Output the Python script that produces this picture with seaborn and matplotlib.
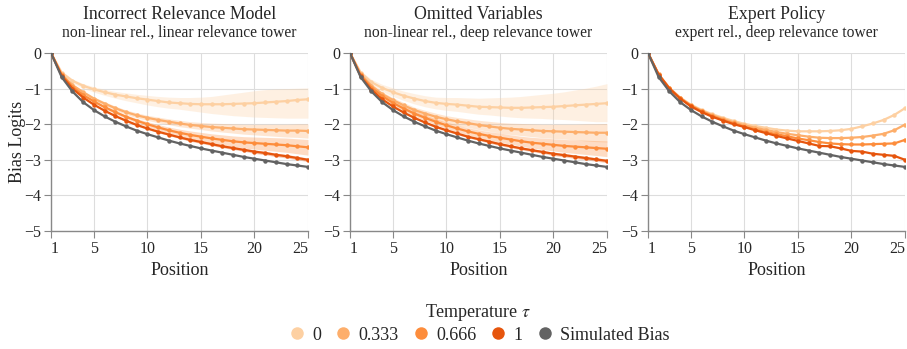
import matplotlib
matplotlib.use('Agg')
import matplotlib.pyplot as plt
from matplotlib.lines import Line2D
import seaborn as sns
import pandas as pd
import numpy as np

# positions 1..25
positions = list(range(1, 26))

sim_bias = [0, -0.68, -1.08, -1.38, -1.60, -1.78, -1.93, -2.06, -2.18, -2.28, -2.37, -2.46, -2.54,
            -2.61, -2.68, -2.74, -2.80, -2.86, -2.92, -2.97, -3.02, -3.07, -3.12, -3.16, -3.20]

# panel 1: Incorrect Relevance Model
p1_t0 = [0, -0.55, -0.78, -0.92, -1.02, -1.10, -1.17, -1.22, -1.27, -1.31, -1.35, -1.39, -1.41,
         -1.43, -1.44, -1.44, -1.44, -1.43, -1.42, -1.41, -1.39, -1.37, -1.35, -1.32, -1.30]
p1_t333 = [0, -0.60, -0.90, -1.10, -1.28, -1.42, -1.55, -1.66, -1.75, -1.82, -1.88, -1.93, -1.98,
           -2.02, -2.05, -2.08, -2.10, -2.12, -2.14, -2.15, -2.16, -2.17, -2.18, -2.18, -2.19]
p1_t666 = [0, -0.62, -0.95, -1.18, -1.36, -1.52, -1.66, -1.79, -1.90, -2.00, -2.09, -2.17, -2.24,
           -2.30, -2.35, -2.40, -2.44, -2.48, -2.51, -2.53, -2.55, -2.57, -2.59, -2.62, -2.65]
p1_t1 = [0, -0.64, -1.00, -1.25, -1.45, -1.62, -1.77, -1.90, -2.02, -2.12, -2.21, -2.29, -2.37,
         -2.44, -2.50, -2.56, -2.62, -2.67, -2.72, -2.77, -2.81, -2.86, -2.90, -2.95, -3.00]

# panel 2: Omitted Variables
p2_t0 = [0, -0.55, -0.82, -0.98, -1.10, -1.20, -1.28, -1.35, -1.40, -1.43, -1.45, -1.48, -1.51,
         -1.52, -1.53, -1.54, -1.54, -1.53, -1.52, -1.51, -1.49, -1.47, -1.45, -1.43, -1.41]
p2_t333 = [0, -0.60, -0.92, -1.15, -1.32, -1.47, -1.60, -1.70, -1.79, -1.86, -1.92, -1.97, -2.02,
           -2.06, -2.10, -2.13, -2.15, -2.17, -2.19, -2.20, -2.21, -2.22, -2.23, -2.24, -2.24]
p2_t666 = [0, -0.63, -0.97, -1.21, -1.40, -1.56, -1.70, -1.82, -1.93, -2.03, -2.12, -2.20, -2.27,
           -2.33, -2.38, -2.43, -2.48, -2.52, -2.55, -2.58, -2.61, -2.63, -2.65, -2.67, -2.69]
p2_t1 = [0, -0.66, -1.03, -1.30, -1.50, -1.67, -1.82, -1.95, -2.07, -2.17, -2.26, -2.35, -2.42,
         -2.49, -2.56, -2.62, -2.68, -2.73, -2.78, -2.83, -2.87, -2.91, -2.95, -2.99, -3.03]

# panel 3: Expert Policy
p3_t0 = [0, -0.60, -0.98, -1.25, -1.45, -1.60, -1.72, -1.82, -1.91, -1.99, -2.05, -2.10, -2.15,
         -2.18, -2.20, -2.20, -2.20, -2.19, -2.17, -2.13, -2.06, -1.98, -1.88, -1.74, -1.55]
p3_t333 = [0, -0.60, -0.99, -1.26, -1.47, -1.62, -1.75, -1.85, -1.95, -2.03, -2.10, -2.16, -2.22,
           -2.27, -2.31, -2.35, -2.38, -2.39, -2.39, -2.38, -2.36, -2.32, -2.27, -2.17, -2.01]
p3_t666 = [0, -0.61, -0.99, -1.27, -1.48, -1.64, -1.77, -1.88, -1.98, -2.07, -2.15, -2.22, -2.28,
           -2.34, -2.40, -2.45, -2.50, -2.54, -2.56, -2.57, -2.57, -2.56, -2.55, -2.54, -2.44]
p3_t1 = [0, -0.61, -1.00, -1.28, -1.50, -1.66, -1.79, -1.90, -2.00, -2.08, -2.17, -2.25, -2.33,
         -2.40, -2.47, -2.54, -2.61, -2.62, -2.68, -2.75, -2.77, -2.83, -2.86, -2.89, -3.00]

# confidence bands (distance above / below the mean)
p1_t0_up = [0, .04, .05, .06, .07, .08, .09, .10, .11, .12, .13, .15, .16, .18, .20, .22, .26, .29,
            .32, .35, .36, .36, .35, .33, .32]
p1_t0_dn = [0, .04, .06, .07, .08, .09, .10, .12, .13, .15, .16, .16, .17, .19, .22, .26, .29, .33,
            .36, .39, .42, .45, .48, .51, .53]
p1_t333_hw = [0, .02, .03, .04, .05, .05, .06, .06, .07, .07, .08, .08, .09, .09, .10, .11, .12, .13,
              .14, .15, .16, .17, .18, .19, .20]
p1_t666_hw = [0, .02, .03, .03, .04, .04, .05, .05, .06, .07, .08, .09, .10, .11, .12, .13, .14, .15,
              .16, .17, .18, .19, .20, .21, .22]
p1_t1_hw = [0, .01, .02, .02, .02, .02, .03, .03, .03, .03, .03, .03, .03, .04, .04, .04, .04, .04,
            .04, .05, .05, .05, .05, .05, .05]

p2_t0_up = [0, .05, .08, .10, .12, .13, .14, .15, .16, .18, .20, .22, .24, .26, .28, .30, .32, .34,
            .36, .38, .40, .43, .46, .50, .55]
p2_t0_dn = [0, .05, .08, .10, .12, .13, .15, .16, .17, .18, .19, .20, .21, .22, .24, .26, .28, .30,
            .32, .35, .38, .42, .46, .50, .52]
p2_t333_hw = [0, .03, .05, .06, .07, .08, .08, .09, .10, .10, .11, .12, .13, .14, .15, .16, .17, .18,
              .19, .20, .21, .22, .24, .25, .26]
p2_t666_hw = [0, .03, .04, .05, .06, .07, .07, .08, .08, .09, .10, .10, .11, .12, .13, .13, .14, .15,
              .16, .17, .18, .19, .20, .21, .22]
p2_t1_hw = [0, .01, .02, .02, .02, .02, .03, .03, .03, .03, .03, .03, .03, .04, .04, .04, .04, .04,
            .04, .05, .05, .05, .05, .05, .05]

titles = ['Incorrect Relevance Model', 'Omitted Variables', 'Expert Policy']
subtitles = ['non-linear rel., linear relevance tower', 'non-linear rel., deep relevance tower',
             'expert rel., deep relevance tower']
series_names = ['0', '0.333', '0.666', '1', 'Simulated Bias']
colors = {'0': '#fdd0a2', '0.333': '#fdae6b', '0.666': '#fd8d3c', '1': '#e6550d',
          'Simulated Bias': '#636363'}
x_ticks = [1, 5, 10, 15, 20, 25]
y_ticks = [0, -1, -2, -3, -4, -5]

panels = [
    [p1_t0, p1_t333, p1_t666, p1_t1, sim_bias],
    [p2_t0, p2_t333, p2_t666, p2_t1, sim_bias],
    [p3_t0, p3_t333, p3_t666, p3_t1, sim_bias],
]
bands = [
    [(p1_t0_up, p1_t0_dn), (p1_t333_hw, p1_t333_hw), (p1_t666_hw, p1_t666_hw), (p1_t1_hw, p1_t1_hw)],
    [(p2_t0_up, p2_t0_dn), (p2_t333_hw, p2_t333_hw), (p2_t666_hw, p2_t666_hw), (p2_t1_hw, p2_t1_hw)],
    None,
]

sns.set_style('white')
plt.rcParams['font.family'] = ['Liberation Serif', 'DejaVu Serif']
plt.rcParams['mathtext.fontset'] = 'stix'

fig = plt.figure(figsize=(9.07, 3.49), dpi=100)
lefts = [51, 350, 648]
W, H = 907, 349

for i in range(3):
    ax = fig.add_axes([lefts[i] / W, 1 - 231 / H, 257 / W, 178 / H])
    rows = []
    for name, vals in zip(series_names, panels[i]):
        for p, v in zip(positions, vals):
            rows.append({'Position': p, 'Bias': v, 'Series': name})
    df = pd.DataFrame(rows)

    if bands[i] is not None:
        for name, vals, (up, dn) in zip(series_names[:4], panels[i][:4], bands[i]):
            m = np.array(vals)
            ax.fill_between(positions, m - np.array(dn), m + np.array(up),
                            color=colors[name], alpha=0.3, linewidth=0, zorder=1)

    sns.lineplot(data=df, x='Position', y='Bias', hue='Series', hue_order=series_names,
                 palette=colors, marker='o', markersize=3.2, markeredgewidth=0,
                 linewidth=1.6, legend=False, ax=ax, zorder=3)

    ax.set_xlim(1, 25)
    ax.set_ylim(-5, 0)
    ax.set_xticks(x_ticks)
    ax.set_xticklabels([str(t) for t in x_ticks])
    ax.set_yticks(y_ticks)
    ax.set_yticklabels(['0' if t == 0 else '\u2212%d' % abs(t) for t in y_ticks])
    xl = ax.get_xticklabels()
    xl[0].set_ha('left')
    xl[-1].set_ha('right')
    ax.grid(True, color='#dddddd', linewidth=0.8)
    ax.set_axisbelow(True)
    for s in ['top', 'right']:
        ax.spines[s].set_visible(False)
    for s in ['left', 'bottom']:
        ax.spines[s].set_color('#888888')
        ax.spines[s].set_linewidth(1.0)
    ax.tick_params(axis='both', which='both', direction='out', length=5, width=0.8,
                   color='#888888', labelsize=11.5, pad=2, left=True, bottom=True)
    ax.set_xlabel('Position', fontsize=13, labelpad=4)
    if i == 0:
        ax.set_ylabel('Bias Logits', fontsize=13, labelpad=-1)
    else:
        ax.set_ylabel('')
    ax.text(0.5, 1.215, titles[i], transform=ax.transAxes, ha='center', va='center', fontsize=12.8)
    ax.text(0.5, 1.112, subtitles[i], transform=ax.transAxes, ha='center', va='center', fontsize=11.2)

handles = [Line2D([], [], linestyle='none', marker='o', markersize=9, markeredgewidth=0,
                  color=colors[n]) for n in series_names]
leg = fig.legend(handles, series_names, loc='center', bbox_to_anchor=(0.527, 0.075), ncol=5,
                 frameon=False, fontsize=13, title='Temperature $\\tau$', title_fontsize=13,
                 handletextpad=0.25, columnspacing=0.62, handlelength=1.2, borderpad=0.2,
                 labelspacing=0.2)

fig.savefig('out.png', dpi=100)
